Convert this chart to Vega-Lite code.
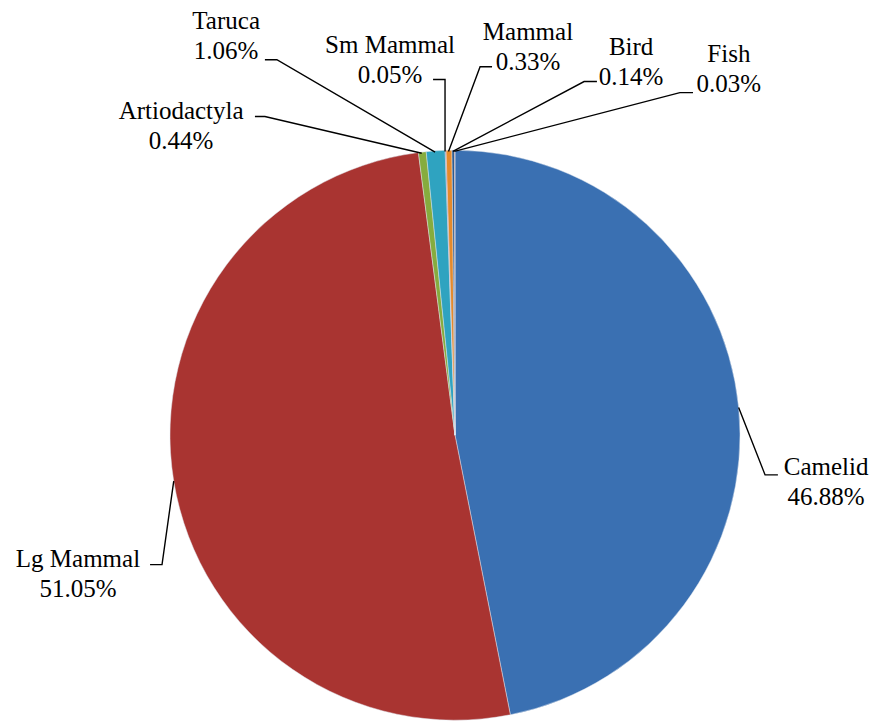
{
  "$schema": "https://vega.github.io/schema/vega-lite/v6.json",
  "width": 878,
  "height": 721,
  "autosize": {"type": "fit", "contains": "padding"},
  "padding": 0,
  "background": "white",
  "config": {"view": {"stroke": null}},
  "datasets": {
    "slices": [
      {"name": "Camelid", "pct": 46.88, "idx": 1},
      {"name": "Lg Mammal", "pct": 51.05, "idx": 2},
      {"name": "Artiodactyla", "pct": 0.44, "idx": 3},
      {"name": "Taruca", "pct": 1.06, "idx": 4},
      {"name": "Sm Mammal", "pct": 0.05, "idx": 5},
      {"name": "Mammal", "pct": 0.33, "idx": 6},
      {"name": "Bird", "pct": 0.14, "idx": 7},
      {"name": "Fish", "pct": 0.03, "idx": 8}
    ],
    "labels": [
      {"name": "Camelid", "lx": 130.2, "ly": -16.5},
      {"name": "Lg Mammal", "lx": -132.3, "ly": -48.8},
      {"name": "Artiodactyla", "lx": -96.1, "ly": 108.8},
      {"name": "Taruca", "lx": -80.3, "ly": 140.5},
      {"name": "Sm Mammal", "lx": -22.8, "ly": 132.3},
      {"name": "Mammal", "lx": 25.6, "ly": 136.8},
      {"name": "Bird", "lx": 61.8, "ly": 131.4},
      {"name": "Fish", "lx": 96.1, "ly": 129.1}
    ],
    "leaders": [
      {"name": "Camelid", "step": 1, "px": 113.3, "py": -14.0},
      {"name": "Camelid", "step": 2, "px": 108.8, "py": -14.0},
      {"name": "Camelid", "step": 3, "px": 99.52, "py": 9.76},
      {"name": "Lg Mammal", "step": 1, "px": -107.0, "py": -45.6},
      {"name": "Lg Mammal", "step": 2, "px": -102.8, "py": -45.6},
      {"name": "Lg Mammal", "step": 3, "px": -98.69, "py": -16.16},
      {"name": "Artiodactyla", "step": 1, "px": -70.2, "py": 112.3},
      {"name": "Artiodactyla", "step": 2, "px": -66.7, "py": 112.3},
      {"name": "Artiodactyla", "step": 3, "px": -11.67, "py": 99.32},
      {"name": "Taruca", "step": 1, "px": -66.7, "py": 132.3},
      {"name": "Taruca", "step": 2, "px": -62.5, "py": 132.3},
      {"name": "Taruca", "step": 3, "px": -6.98, "py": 99.76},
      {"name": "Sm Mammal", "step": 1, "px": -7.7, "py": 125.3},
      {"name": "Sm Mammal", "step": 2, "px": -3.5, "py": 125.3},
      {"name": "Sm Mammal", "step": 3, "px": -3.49, "py": 99.94},
      {"name": "Mammal", "step": 1, "px": 13.0, "py": 129.8},
      {"name": "Mammal", "step": 2, "px": 8.8, "py": 129.8},
      {"name": "Mammal", "step": 3, "px": -2.27, "py": 99.97},
      {"name": "Bird", "step": 1, "px": 49.8, "py": 124.6},
      {"name": "Bird", "step": 2, "px": 45.3, "py": 124.6},
      {"name": "Bird", "step": 3, "px": -0.75, "py": 100.0},
      {"name": "Fish", "step": 1, "px": 83.5, "py": 120.7},
      {"name": "Fish", "step": 2, "px": 78.9, "py": 120.7},
      {"name": "Fish", "step": 3, "px": -0.23, "py": 100.0}
    ]
  },
  "layer": [
    {
      "data": {"name": "slices"},
      "mark": {"type": "arc", "radius": 285, "stroke": "#dfe6ee", "strokeWidth": 0.6, "strokeOpacity": 0.8},
      "encoding": {
        "x": {"datum": 0, "type": "quantitative", "scale": {"domain": [-159.65, 148.42], "nice": false, "zero": false}, "axis": null},
        "y": {"datum": 0, "type": "quantitative", "scale": {"domain": [-99.65, 153.33], "nice": false, "zero": false}, "axis": null},
        "theta": {"field": "pct", "type": "quantitative", "stack": true},
        "order": {"field": "idx", "type": "quantitative"},
        "color": {
          "field": "name",
          "type": "nominal",
          "legend": null,
          "scale": {
            "domain": ["Camelid", "Lg Mammal", "Artiodactyla", "Taruca", "Sm Mammal", "Mammal", "Bird", "Fish"],
            "range": ["#3A70B2", "#A93431", "#86AC3E", "#2FA3C0", "#7A5E9E", "#E58A2C", "#2C5A8E", "#7A2A28"]
          }
        }
      }
    },
    {
      "data": {"name": "leaders"},
      "mark": {"type": "line", "color": "black", "strokeWidth": 1.4},
      "encoding": {
        "x": {"field": "px", "type": "quantitative"},
        "y": {"field": "py", "type": "quantitative"},
        "detail": {"field": "name"},
        "order": {"field": "step", "type": "quantitative"}
      }
    },
    {
      "data": {"name": "labels"},
      "mark": {"type": "text", "font": "Liberation Serif", "fontSize": 25, "align": "center", "baseline": "middle", "dy": -15, "color": "black"},
      "encoding": {
        "x": {"field": "lx", "type": "quantitative"},
        "y": {"field": "ly", "type": "quantitative"},
        "text": {"field": "name"}
      }
    },
    {
      "data": {"name": "labels"},
      "transform": [
        {"lookup": "name", "from": {"data": {"name": "slices"}, "key": "name", "fields": ["pct"]}},
        {"calculate": "format(datum.pct, '.2f') + '%'", "as": "pctLabel"}
      ],
      "mark": {"type": "text", "font": "Liberation Serif", "fontSize": 25, "align": "center", "baseline": "middle", "dy": 15, "color": "black"},
      "encoding": {
        "x": {"field": "lx", "type": "quantitative"},
        "y": {"field": "ly", "type": "quantitative"},
        "text": {"field": "pctLabel"}
      }
    }
  ]
}
